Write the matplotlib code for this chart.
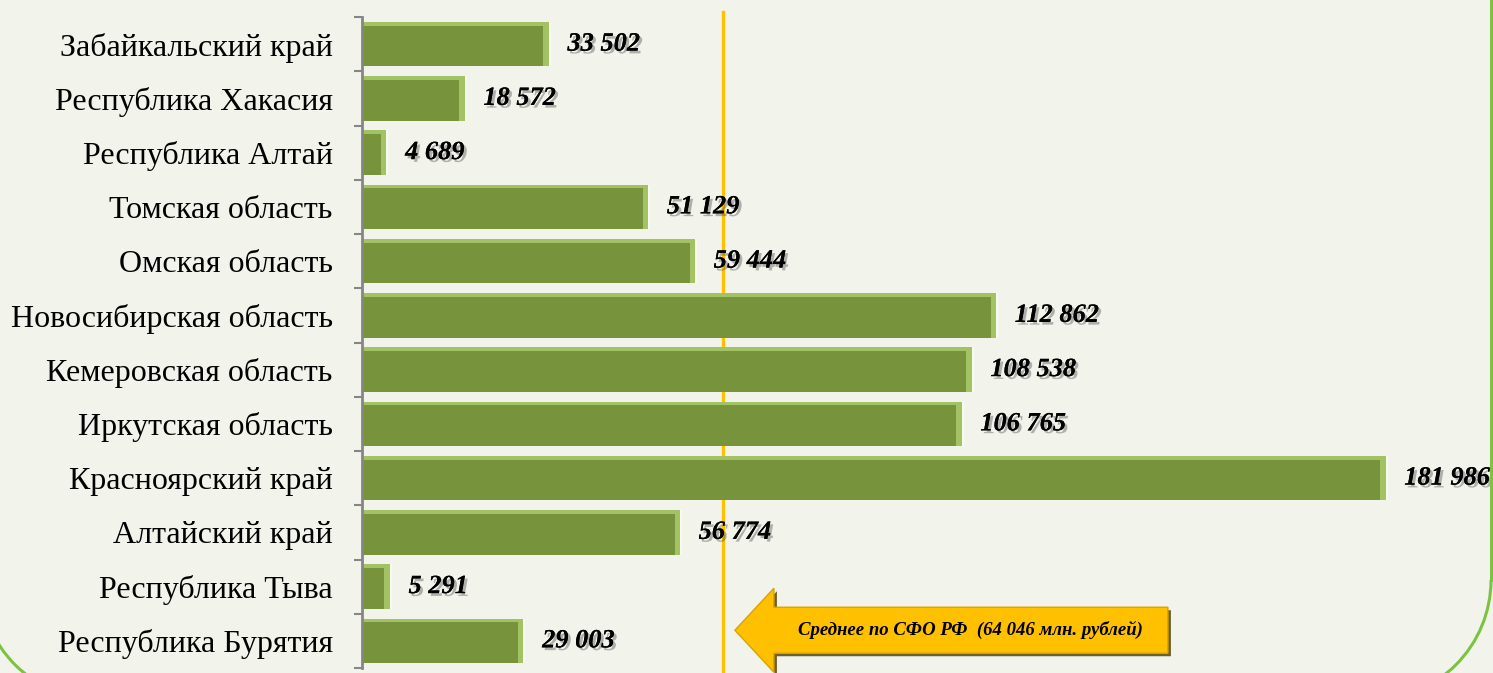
import numpy as np
import matplotlib
matplotlib.use("Agg")
import matplotlib.pyplot as plt
import matplotlib.patheffects as pe
from matplotlib import transforms
from matplotlib.patches import Polygon, Arc
from matplotlib.lines import Line2D

# data, top to bottom as in the reference
regions = [
    "Забайкальский край", "Республика Хакасия", "Республика Алтай",
    "Томская область", "Омская область", "Новосибирская область",
    "Кемеровская область", "Иркутская область", "Красноярский край",
    "Алтайский край", "Республика Тыва", "Республика Бурятия",
]
values = [33502, 18572, 4689, 51129, 59444, 112862, 108538, 106765,
          181986, 56774, 5291, 29003]
mean_value = 64046
mean_text = "Среднее по СФО РФ  (64 046 млн. рублей)"

BG = "#f2f4ec"
BAR = "#77933c"
BAR_LIGHT = "#a3c266"
GOLD = "#ffc000"


def fmt(v):
    return f"{v:,}".replace(",", " ")


plt.rcParams["font.family"] = ["Liberation Serif", "DejaVu Serif"]

fig = plt.figure(figsize=(14.93, 6.73), dpi=100, facecolor=BG)
W, H = 1493, 673

# green rounded frame of the slide, only the bottom corners show (pixels)
green = "#7dc242"
fig.patches.append(Arc((100, 93), 240, 240, theta1=180, theta2=270,
                       transform=None, color=green, lw=2.2))
fig.patches.append(Arc((1371, 93), 240, 240, theta1=270, theta2=360,
                       transform=None, color=green, lw=2.2))
fig.lines.append(Line2D([1491, 1491], [93, 700], transform=None,
                        color=green, lw=2.2))

ax = fig.add_axes([362 / W, (H - 668) / H, (W - 362) / W, 651 / H])
ax.set_facecolor("none")

y = np.arange(len(regions))
bh = 0.82
vals = np.array(values)
ax.barh(y, vals, height=bh, color=BAR, zorder=2)
# bevel highlights: top strip and right end
ax.barh(y - bh / 2 + 0.035, vals, height=0.07, color=BAR_LIGHT, zorder=3)
ax.barh(y, [1300] * len(values), left=vals - 1300, height=bh,
        color=BAR_LIGHT, zorder=3)
ax.barh(y, [350] * len(values), left=vals - 350, height=bh,
        color="#f6fbec", zorder=4)

shadow = [pe.withSimplePatchShadow(offset=(2, -2), shadow_rgbFace="#333333", alpha=0.35),
          pe.Normal()]
for yi, v in zip(y, values):
    ax.annotate(fmt(v), (v, yi), xytext=(12, 0), textcoords="offset points",
                ha="left", va="center", fontsize=19, fontweight="bold",
                fontstyle="italic", color="black", path_effects=shadow, zorder=5)

ax.set_xlim(0, 200700)
ax.set_ylim(len(regions) - 0.5, -0.5)
ax.set_yticks(y)
ax.set_yticklabels(regions, fontsize=23)
ax.tick_params(axis="y", which="major", length=0, pad=21)
ax.set_yticks(np.arange(len(regions) + 1) - 0.5, minor=True)
ax.tick_params(axis="y", which="minor", length=6, width=1.5, color="#868686")
ax.set_xticks([])
for s in ["top", "right", "bottom"]:
    ax.spines[s].set_visible(False)
ax.spines["left"].set_color("#868686")
ax.spines["left"].set_linewidth(2)
ax.spines["left"].set_zorder(6)

# mean line
ax.axvline(mean_value, ymin=-0.01, ymax=1.008, color=GOLD, lw=2.4, zorder=1,
           clip_on=False)

# callout arrow anchored next to the mean line (pixel offsets)
anchor = transforms.blended_transform_factory(ax.transData, ax.transAxes)
tr = transforms.Affine2D() + transforms.ScaledTranslation(mean_value, 0.058, anchor)
arrow_pts = [(12, 0), (51, 42), (51, 23), (445, 23), (445, -23), (51, -23), (51, -42)]
shadow_pts = [(x + 3, yy - 3) for x, yy in arrow_pts]
fig.patches.append(Polygon(shadow_pts, closed=True, transform=tr, fc="#4a3b00",
                           ec="none", alpha=0.8, zorder=7))
fig.patches.append(Polygon(arrow_pts, closed=True, transform=tr, fc=GOLD,
                           ec="#d9a300", lw=1, zorder=8))
fig.text(248, 0, mean_text, transform=tr, ha="center", va="center",
         fontsize=13.5, fontweight="bold", fontstyle="italic", color="black",
         zorder=9)

fig.savefig("out.png", dpi=100, facecolor=BG)
